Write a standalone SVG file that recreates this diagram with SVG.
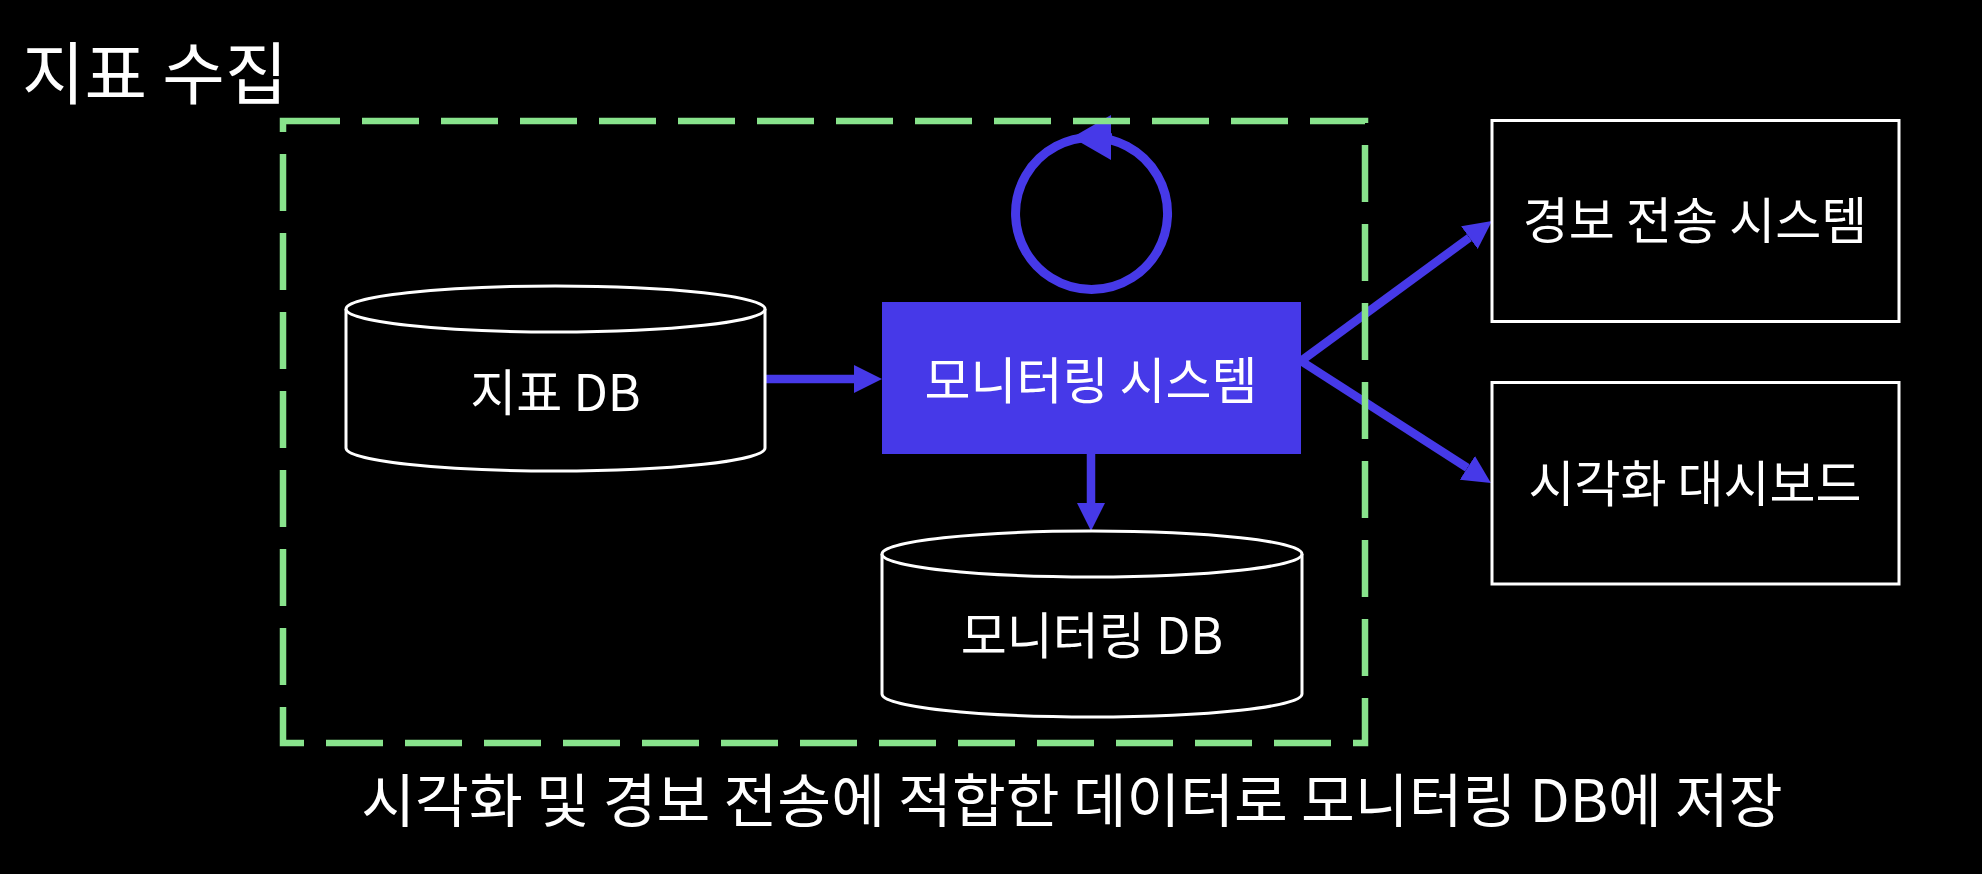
<svg xmlns="http://www.w3.org/2000/svg" width="1982" height="874" viewBox="0 0 1982 874">
<style>
.t{font-family:"Noto Sans CJK KR","Noto Sans",sans-serif;fill:#ffffff;text-anchor:middle}
.box{fill:#000000;stroke:#ffffff;stroke-width:3}
.cyl{fill:#000000;stroke:#ffffff;stroke-width:3}
.conn{fill:none;stroke:#4639E8;stroke-width:8.5}
.grp{fill:none;stroke:#88E38C;stroke-width:6.5;stroke-dasharray:57 22}
</style>
<defs>
<marker id="ah" markerUnits="userSpaceOnUse" markerWidth="30" markerHeight="30" viewBox="0 -15 30 30" refX="0" refY="0" orient="auto"><path d="M0,-14 L28,0 L0,14 Z" fill="#4639E8"/></marker>
<marker id="ahL" markerUnits="userSpaceOnUse" markerWidth="40" markerHeight="46" viewBox="0 -23 40 46" refX="0" refY="0" orient="auto"><path d="M0,-22.5 L39,0 L0,22.5 Z" fill="#4639E8"/></marker>
</defs>
<rect width="1982" height="874" fill="#000000"/>
<text class="t" x="22" y="99" style="text-anchor:start" font-size="68">지표 수집</text>
<g id="connectors">
<path class="conn" d="M1091.5,137.5 A76,76 0 1 0 1091.6,137.5" style="stroke-width:9"/>
<path class="conn" d="M1112,137.5 L1111,137.5" marker-end="url(#ahL)"/>
<path class="conn" d="M765,379 L854,379" marker-end="url(#ah)"/>
<path class="conn" d="M1091,454 L1091,503" marker-end="url(#ah)"/>
<path class="conn" d="M1301,361 L1469.4,237.6" marker-end="url(#ah)"/>
<path class="conn" d="M1301,361 L1467.4,467.9" marker-end="url(#ah)"/>
</g>
<g id="group-metrics">
<rect class="grp" x="283" y="121" width="1082" height="622"/>
</g>
<g id="node-metrics-db">
<path class="cyl" d="M346,309 A209.5,23 0 0 1 765,309 L765,448 A209.5,23 0 0 1 346,448 Z"/>
<path class="cyl" d="M346,309 A209.5,23 0 0 0 765,309" fill="none"/>
<text class="t" x="555.5" y="411" font-size="50">지표 DB</text>
</g>
<g id="node-monitoring">
<rect x="882" y="302" width="419" height="152" fill="#4639E8"/>
<text class="t" x="1091" y="398.5" font-size="50">모니터링 시스템</text>
</g>
<g id="node-monitoring-db">
<path class="cyl" d="M882,554 A210,23 0 0 1 1302,554 L1302,694 A210,23 0 0 1 882,694 Z"/>
<path class="cyl" d="M882,554 A210,23 0 0 0 1302,554" fill="none"/>
<text class="t" x="1092" y="654" font-size="50">모니터링 DB</text>
</g>
<g id="node-alert">
<rect class="box" x="1492" y="120.5" width="407" height="201"/>
<text class="t" x="1695" y="239" font-size="50">경보 전송 시스템</text>
</g>
<g id="node-dashboard">
<rect class="box" x="1492" y="382.5" width="407" height="201.5"/>
<text class="t" x="1695" y="502" font-size="50">시각화 대시보드</text>
</g>
<text class="t" x="1072" y="822" font-size="58.5">시각화 및 경보 전송에 적합한 데이터로 모니터링 DB에 저장</text>
</svg>
